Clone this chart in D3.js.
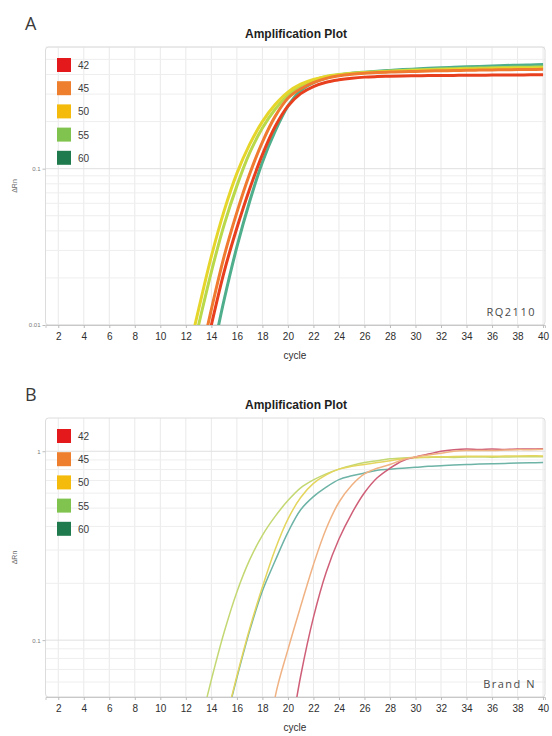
<!DOCTYPE html>
<html>
<head>
<meta charset="utf-8">
<script src="https://cdn.jsdelivr.net/npm/d3@7"></script>
<style>
    body { margin: 0; background: #fff; }
    svg { display: block; font-family: "Liberation Sans", Arial, sans-serif; }
    .panel-letter { font-family: "Open Sans", sans-serif; font-size: 18px; fill: #3a3a3a; }
    .chart-title { font-size: 12px; font-weight: bold; fill: #1e1e1e; text-anchor: middle; }
    .tag { font-family: "Open Sans", sans-serif; font-size: 11px; fill: #4a4a4a; letter-spacing: 1.5px; text-anchor: end; }
    .xAxisLabel text { font-size: 10px; fill: #2e2e2e; }
    .yAxisLabel text { font-size: 6px; fill: #777; }
    .xTitle { font-size: 10px; fill: #2e2e2e; text-anchor: middle; }
    .yTitle { font-size: 7px; fill: #666; text-anchor: middle; }
    .legend text { font-size: 10px; fill: #3a3a3a; }
</style>
</head>
<body>
<svg id="figure" width="552" height="736"></svg>
<script>
// series labels (annealing temperature) and legend swatches
var temps = ['42', '45', '50', '55', '60'];
var legendColors = ['#e3191c', '#ee7f2f', '#f4bb0c', '#80c34f', '#1f7a4e'];

var xTicks = [2, 4, 6, 8, 10, 12, 14, 16, 18, 20, 22, 24, 26, 28, 30, 32, 34, 36, 38, 40];

// panel A - RQ2110, delta Rn per cycle
var cyclesA = [11, 12, 13, 14, 15, 16, 17, 18, 19, 20, 21, 22, 23, 24, 25, 26, 27, 28, 29, 30,
    31, 32, 33, 34, 35, 36, 37, 38, 39, 40];
var rq42 = [0.0009, 0.0020, 0.0043, 0.0100, 0.0219, 0.0417, 0.0741, 0.123, 0.186, 0.251, 0.302, 0.335, 0.357, 0.370, 0.379,
    0.385, 0.388, 0.390, 0.392, 0.393, 0.394, 0.395, 0.395, 0.396, 0.396, 0.397, 0.397, 0.397, 0.398, 0.398];
var rq45 = [0.0011, 0.0025, 0.0054, 0.0126, 0.0275, 0.0525, 0.0923, 0.148, 0.216, 0.282, 0.324, 0.355, 0.378, 0.393, 0.402,
    0.408, 0.412, 0.415, 0.417, 0.419, 0.421, 0.423, 0.424, 0.426, 0.427, 0.428, 0.429, 0.430, 0.431, 0.432];
var rq50 = [0.0025, 0.0056, 0.0126, 0.0275, 0.0537, 0.0933, 0.143, 0.200, 0.257, 0.309, 0.347, 0.372, 0.389, 0.398, 0.405,
    0.410, 0.414, 0.418, 0.421, 0.424, 0.426, 0.428, 0.430, 0.432, 0.434, 0.436, 0.437, 0.438, 0.439, 0.440];
var rq55 = [0.0020, 0.0045, 0.0100, 0.0219, 0.0437, 0.0776, 0.126, 0.182, 0.240, 0.295, 0.339, 0.367, 0.389, 0.400, 0.407,
    0.412, 0.417, 0.421, 0.425, 0.428, 0.431, 0.434, 0.436, 0.438, 0.440, 0.442, 0.444, 0.445, 0.446, 0.447];
var rq60 = [null, 0.0011, 0.0025, 0.0060, 0.0145, 0.0316, 0.0617, 0.110, 0.174, 0.251, 0.316, 0.355, 0.380, 0.397, 0.407,
    0.414, 0.420, 0.425, 0.430, 0.434, 0.438, 0.442, 0.445, 0.448, 0.451, 0.454, 0.457, 0.459, 0.461, 0.463];

// panel B - Brand N
var cyclesB = [12, 13, 14, 15, 16, 17, 18, 19, 20, 21, 22, 23, 24, 25, 26, 27, 28, 29, 30,
    31, 32, 33, 34, 35, 36, 37, 38, 39, 40];
var bn42 = [null, null, null, null, null, null, 0.0055, 0.012, 0.0263, 0.0646, 0.132, 0.229, 0.343, 0.468, 0.603,
    0.724, 0.813, 0.891, 0.933, 0.966, 1.0, 1.019, 1.028, 1.023, 1.028, 1.023, 1.028, 1.028, 1.03];
var bn45 = [null, null, null, null, null, 0.0085, 0.0158, 0.0501, 0.0891, 0.151, 0.251, 0.389, 0.537, 0.661, 0.759,
    0.813, 0.851, 0.902, 0.933, 0.955, 0.977, 1.0, 1.01, 1.01, 1.01, 1.015, 1.02, 1.02, 1.025];
var bn50 = [0.0050, 0.0095, 0.0182, 0.0347, 0.0646, 0.115, 0.191, 0.302, 0.437, 0.569, 0.676, 0.750, 0.804, 0.832, 0.851,
    0.871, 0.891, 0.912, 0.923, 0.933, 0.935, 0.938, 0.940, 0.942, 0.940, 0.943, 0.945, 0.946, 0.945];
var bn55 = [0.0174, 0.0331, 0.0617, 0.110, 0.180, 0.266, 0.359, 0.452, 0.548, 0.640, 0.705, 0.759, 0.804, 0.841, 0.871,
    0.891, 0.912, 0.922, 0.926, 0.928, 0.930, 0.928, 0.931, 0.933, 0.930, 0.932, 0.934, 0.935, 0.936];
var bn60 = [0.0048, 0.0090, 0.0174, 0.0339, 0.0631, 0.112, 0.182, 0.263, 0.372, 0.490, 0.575, 0.646, 0.708, 0.741, 0.767,
    0.794, 0.804, 0.813, 0.822, 0.832, 0.838, 0.845, 0.850, 0.855, 0.858, 0.862, 0.866, 0.868, 0.871];

var AmplificationPlot = function () {

    var top = 47,
        bottom = 325,
        left = 45.5,
        right = 545,
        letter = 'A',
        tag = '',
        title = 'Amplification Plot',
        xTitle = 'cycle',
        yTitle = '\u0394Rn',
        cycles = [],
        series = [],
        colors = [],
        yDomain = [0.01, 1],
        yTicks = [],
        strokeWidth = 1.5;

    var chart = function (svg) {
        var xScale = d3.scaleLinear().domain([1, 40.15]).range([left, right]),
            yScale = d3.scaleLog().domain(yDomain).range([bottom, top]);
        var id = 'clip' + letter;

        svg.append('text')
            .attr('class', 'panel-letter')
            .attr('x', 25)
            .attr('y', top - 17)
            .text(letter);

        svg.append('text')
            .attr('class', 'chart-title')
            .attr('x', 296)
            .attr('y', top - 9)
            .text(title);

        var g = svg.append('g');

        // grid
        g.append('g').selectAll('line')
            .data(xTicks)
            .enter().append('line')
            .attr('x1', function (d) { return xScale(d); })
            .attr('x2', function (d) { return xScale(d); })
            .attr('y1', top)
            .attr('y2', bottom)
            .attr('stroke', '#e9e9e9')
            .attr('stroke-width', 1);

        g.append('g').selectAll('line')
            .data(yScale.ticks())
            .enter().append('line')
            .attr('x1', left)
            .attr('x2', right)
            .attr('y1', function (d) { return yScale(d); })
            .attr('y2', function (d) { return yScale(d); })
            .attr('stroke', function (d) { return yTicks.indexOf(d) >= 0 ? '#e0e0e0' : '#eeeeee'; })
            .attr('stroke-width', 1);

        g.append('rect')
            .attr('x', left)
            .attr('y', top)
            .attr('width', right - left)
            .attr('height', bottom - top)
            .attr('rx', 3)
            .attr('fill', 'none')
            .attr('stroke', '#dcdcdc');

        g.append('clipPath')
            .attr('id', id)
            .append('rect')
            .attr('x', left)
            .attr('y', top)
            .attr('width', right - left)
            .attr('height', bottom - top);

        var line = d3.line()
            .defined(function (d) { return d.v != null; })
            .x(function (d) { return xScale(d.c); })
            .y(function (d) { return yScale(d.v); })
            .curve(d3.curveCatmullRom.alpha(0.5));

        // draw late series first so the early ones sit on top
        var order = [4, 3, 2, 0, 1];
        g.append('g')
            .attr('clip-path', 'url(#' + id + ')')
            .selectAll('path')
            .data(order)
            .enter().append('path')
            .attr('d', function (i) {
                return line(cycles.map(function (c, k) { return { c: c, v: series[i][k] }; }));
            })
            .attr('fill', 'none')
            .attr('stroke', function (i) { return colors[i]; })
            .attr('stroke-width', strokeWidth)
            .attr('stroke-linejoin', 'round');

        // axes
        var xAxis = d3.axisBottom(xScale).tickValues(xTicks).tickSize(3).tickPadding(5);
        var gx = g.append('g')
            .attr('class', 'xAxisLabel')
            .attr('transform', 'translate(0,' + bottom + ')')
            .call(xAxis);
        gx.select('.domain').attr('stroke', '#c8c8c8');
        gx.selectAll('.tick line').attr('stroke', '#bbb');

        var yAxis = d3.axisLeft(yScale).tickValues(yTicks).tickFormat(function (d) { return d; }).tickSize(3).tickPadding(2);
        var gy = g.append('g')
            .attr('class', 'yAxisLabel')
            .attr('transform', 'translate(' + left + ',0)')
            .call(yAxis);
        gy.select('.domain').remove();
        gy.selectAll('.tick line').attr('stroke', '#bbb');

        svg.append('text')
            .attr('class', 'xTitle')
            .attr('x', 295)
            .attr('y', bottom + 34)
            .text(xTitle);

        svg.append('text')
            .attr('class', 'yTitle')
            .attr('transform', 'translate(17,' + ((top + bottom) / 2) + ') rotate(-90)')
            .text(yTitle);

        // legend
        var legend = svg.append('g')
            .attr('class', 'legend')
            .selectAll('g')
            .data(temps)
            .enter().append('g')
            .attr('transform', function (d, i) { return 'translate(57,' + (top + 18 + i * 23.2) + ')'; });
        legend.append('rect')
            .attr('x', 0)
            .attr('y', -7)
            .attr('width', 14)
            .attr('height', 14)
            .attr('fill', function (d, i) { return legendColors[i]; });
        legend.append('text')
            .attr('x', 21)
            .attr('y', 4)
            .text(function (d) { return d; });

        svg.append('text')
            .attr('class', 'tag')
            .attr('x', 536)
            .attr('y', bottom - 9)
            .text(tag);
    };

    chart.top = function (value) { if (!arguments.length) return top; top = value; return chart; };
    chart.bottom = function (value) { if (!arguments.length) return bottom; bottom = value; return chart; };
    chart.letter = function (value) { if (!arguments.length) return letter; letter = value; return chart; };
    chart.tag = function (value) { if (!arguments.length) return tag; tag = value; return chart; };
    chart.cycles = function (value) { if (!arguments.length) return cycles; cycles = value; return chart; };
    chart.series = function (value) { if (!arguments.length) return series; series = value; return chart; };
    chart.colors = function (value) { if (!arguments.length) return colors; colors = value; return chart; };
    chart.yDomain = function (value) { if (!arguments.length) return yDomain; yDomain = value; return chart; };
    chart.yTicks = function (value) { if (!arguments.length) return yTicks; yTicks = value; return chart; };
    chart.strokeWidth = function (value) { if (!arguments.length) return strokeWidth; strokeWidth = value; return chart; };
    return chart;
};

var svg = d3.select('#figure');

var plotA = AmplificationPlot()
    .top(47).bottom(325).letter('A').tag('RQ2110')
    .cycles(cyclesA)
    .series([rq42, rq45, rq50, rq55, rq60])
    .colors(['#e8401f', '#f07a30', '#e6d62c', '#b9d84a', '#4fae8c'])
    .yDomain([0.01, 0.6])
    .yTicks([0.01, 0.1])
    .strokeWidth(3);
svg.append('g').call(plotA);

var plotB = AmplificationPlot()
    .top(418).bottom(697).letter('B').tag('Brand N')
    .cycles(cyclesB)
    .series([bn42, bn45, bn50, bn55, bn60])
    .colors(['#cf5f78', '#f0b283', '#e4d55e', '#c3d873', '#6db3a6'])
    .yDomain([0.05, 1.5])
    .yTicks([0.1, 1])
    .strokeWidth(1.5);
svg.append('g').call(plotB);
</script>
</body>
</html>
